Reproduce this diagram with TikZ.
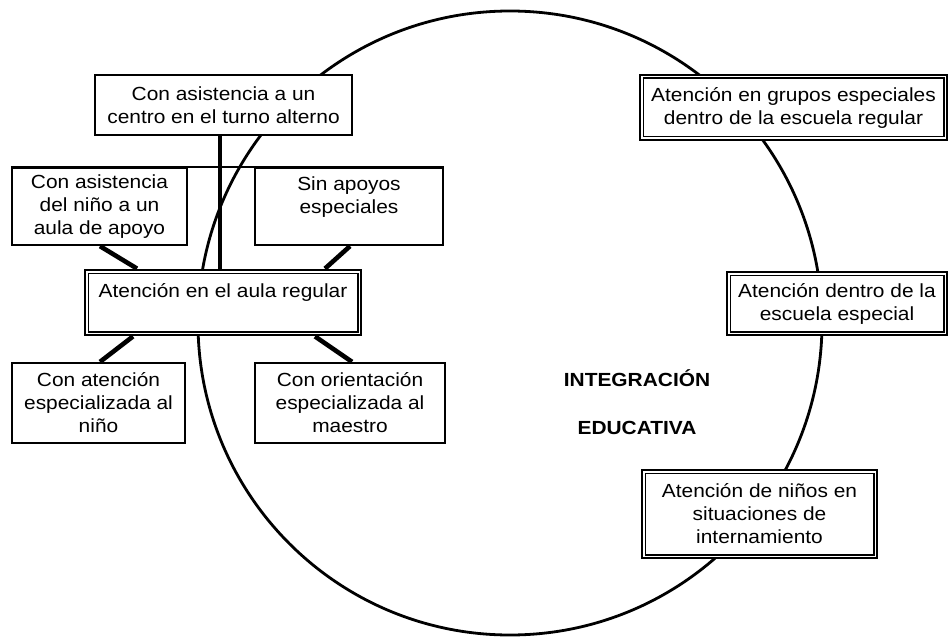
\documentclass[tikz,border=0pt]{standalone}
\usepackage{fontspec}
\setmainfont{Liberation Sans}[FakeStretch=1.1]
\begin{document}
\begin{tikzpicture}[x=1pt,y=-1pt,
  box/.style={draw=black, line width=2.3pt, fill=white, align=center, inner sep=0pt,
    font=\fontsize{19}{23}\selectfont},
  dbox/.style={box, line width=2.8pt},
  conn/.style={draw=black, line width=4.6pt},
  circ/.style={draw=black, line width=2.8pt},
  lbl/.style={font=\fontsize{19}{23}\selectfont\bfseries, inner sep=0pt}]
\useasboundingbox[fill=white] (0,0) rectangle (949,639);
% big circle
\coordinate (ctr) at (510,323);
\draw[circ] (ctr) circle[radius=312pt];
% boxes on the left
\node[box, minimum width=257pt, minimum height=60pt] (A) at (223.5,105) {Con asistencia a un\\centro en el turno alterno};
\node[box, minimum width=175pt, minimum height=77pt] (B) at (99.5,206.5) {Con asistencia\\del niño a un\\aula de apoyo};
\node[box, minimum width=188pt, minimum height=77pt] (C) at (349,206.5) {Sin apoyos\\especiales\\\mbox{}};
\node[dbox, minimum width=276pt, minimum height=65pt] (D) at (223,302.5) {Atención en el aula regular\\\mbox{}};
\node[box, minimum width=173pt, minimum height=80pt] (H) at (98.5,403) {Con atención\\especializada al\\niño};
\node[box, minimum width=190pt, minimum height=80pt] (I) at (350,403) {Con orientación\\especializada al\\maestro};
% boxes on the right
\node[dbox, minimum width=307pt, minimum height=65pt] (E) at (793.5,107.5) {Atención en grupos especiales\\dentro de la escuela regular};
\node[dbox, minimum width=220pt, minimum height=63pt] (F) at (837,303.5) {Atención dentro de la\\escuela especial};
\node[dbox, minimum width=235pt, minimum height=88pt] (G) at (759.5,514) {Atención de niños en\\situaciones de\\internamiento};
% inner borders of double boxes
\foreach \n in {D,E,F,G}
  \draw[line width=1.2pt] ([shift={(4.5pt,-4.5pt)}]\n.north west) rectangle ([shift={(-4.5pt,4.5pt)}]\n.south east);
% connectors
\draw[line width=2.3pt] (B.north west) -- (C.north east);
\draw[conn] ([xshift=-3.5pt]A.south) -- ([xshift=-3pt]D.north);
\draw[conn] ([xshift=0.5pt]B.south) -- ([xshift=-86pt]D.north);
\draw[conn] ([xshift=1pt]C.south) -- ([xshift=102pt]D.north);
\draw[conn] ([xshift=-90pt]D.south) -- ([xshift=1.5pt]H.north);
\draw[conn] ([xshift=92pt]D.south) -- ([xshift=2pt]I.north);
% central title
\node[lbl] (int) at (637,378) {INTEGRACIÓN};
\node[lbl] (edu) at (637,428) {EDUCATIVA};
\end{tikzpicture}
\end{document}
